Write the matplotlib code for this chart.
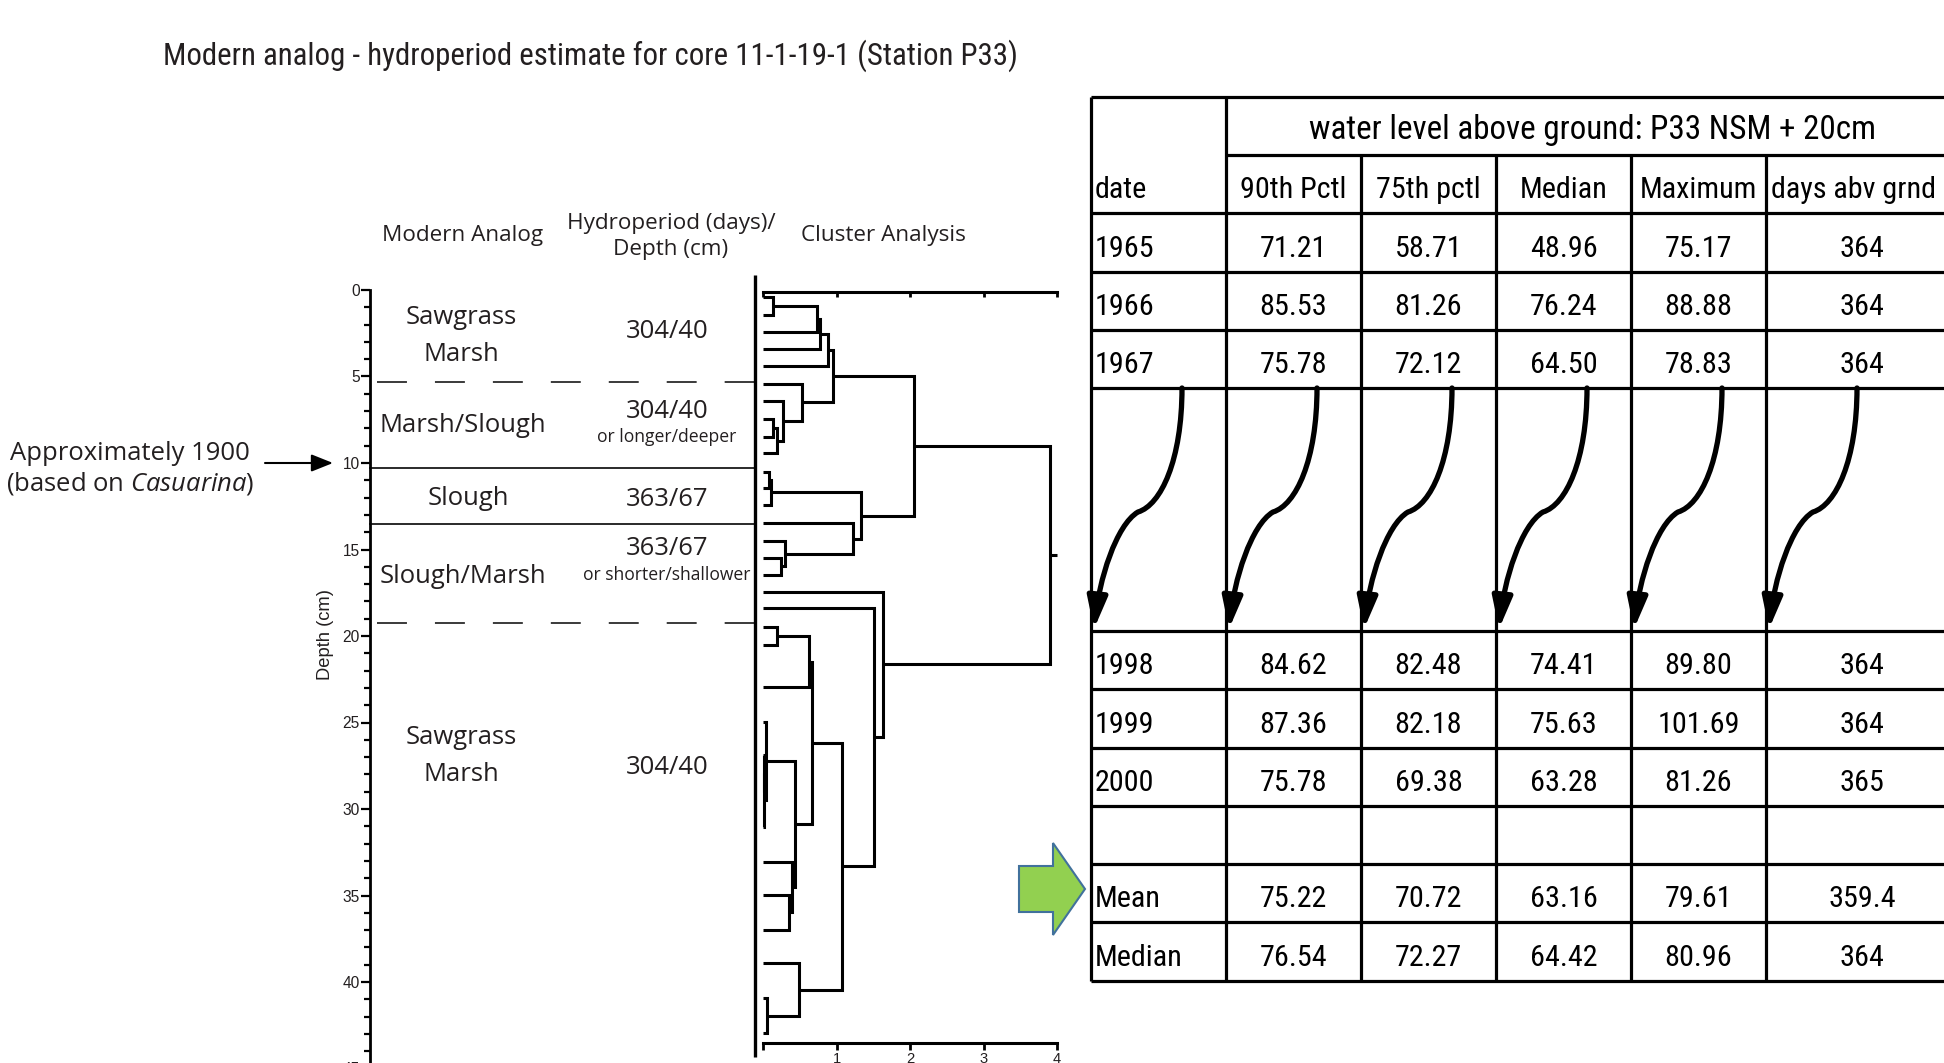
import matplotlib
matplotlib.use('Agg')
import matplotlib.pyplot as plt
from matplotlib import font_manager as fm
from matplotlib.font_manager import FontProperties
from matplotlib.textpath import TextPath
from matplotlib.patches import Polygon, FancyArrowPatch
from matplotlib.path import Path
from matplotlib.ticker import MultipleLocator

W, H, DPI = 1944, 1063, 100

# ---------------- data ----------------
title = 'Modern analog - hydroperiod estimate for core 11-1-19-1 (Station P33)'
panel_headers = [['Modern Analog'], ['Hydroperiod (days)/', 'Depth (cm)'], ['Cluster Analysis']]
zone_names = ['Sawgrass\nMarsh', 'Marsh/Slough', 'Slough', 'Slough/Marsh', 'Sawgrass\nMarsh']
zone_hydroperiod = ['304/40', '304/40', '363/67', '363/67', '304/40']
zone_note = ['', 'or longer/deeper', '', 'or shorter/shallower', '']
zone_boundaries = [5.3, 10.3, 13.5, 19.25]
boundary_dashed = [True, False, False, True]
marker_depth = 10
marker_text = ['Approximately 1900', '(based on $\\mathit{Casuarina}$)']
depth_label = 'Depth (cm)'
depth_major, depth_minor = 5, 1
cluster_ticks = [0, 1, 2, 3, 4]
cluster_ticklabels = ['', '1', '2', '3', '4']

# dendrogram: leaf depths (cm) and merges (child, child, distance); ids >= n are earlier merges
leaf_depths = [0.39, 1.45, 2.41, 3.43, 4.39, 5.43, 6.40, 7.48, 8.48, 9.44,
               10.50, 11.46, 12.43, 13.49, 14.51, 15.47, 16.47, 17.44, 18.40, 19.46,
               20.52, 22.97, 24.95, 26.88, 29.00, 31.02, 33.04, 34.97, 36.99, 38.92,
               40.94, 42.96]
merges = [(0, 1, 0.14), (32, 2, 0.73), (33, 3, 0.78), (34, 4, 0.89),
          (7, 8, 0.14), (36, 9, 0.195), (6, 37, 0.27), (5, 38, 0.53),
          (35, 39, 0.95),
          (10, 11, 0.08), (41, 12, 0.105), (15, 16, 0.24), (14, 43, 0.30),
          (13, 44, 1.23), (42, 45, 1.33), (40, 46, 2.05),
          (19, 20, 0.186), (48, 21, 0.62), (23, 24, 0.01), (50, 25, 0.02),
          (22, 51, 0.04), (27, 28, 0.36), (26, 53, 0.40), (52, 54, 0.435),
          (49, 55, 0.66), (30, 31, 0.05), (29, 57, 0.49), (56, 58, 1.07),
          (18, 59, 1.515), (17, 60, 1.63), (47, 61, 3.905)]

# table
group_header = 'water level above ground: P33 NSM + 20cm'
col_headers = ['date', '90th Pctl', '75th pctl', 'Median', 'Maximum', 'days abv grnd']
years = ['1965', '1966', '1967', '1998', '1999', '2000']
pct90 = [71.21, 85.53, 75.78, 84.62, 87.36, 75.78]
pct75 = [58.71, 81.26, 72.12, 82.48, 82.18, 69.38]
median = [48.96, 76.24, 64.50, 74.41, 75.63, 63.28]
maximum = [75.17, 88.88, 78.83, 89.80, 101.69, 81.26]
days_abv = [364, 364, 364, 364, 364, 365]
summary_labels = ['Mean', 'Median']
summary_pct90 = [75.22, 76.54]
summary_pct75 = [70.72, 72.27]
summary_median = [63.16, 64.42]
summary_max = [79.61, 80.96]
summary_days = [359.4, 364]

# ---------------- fonts ----------------
ttf = fm.fontManager.ttflist
names = {f.name for f in ttf}
LEFT_FONT = 'Open Sans' if 'Open Sans' in names else 'DejaVu Sans'
TICK_FONT = 'Liberation Sans' if 'Liberation Sans' in names else 'DejaVu Sans'
if 'Liberation Sans Narrow' in names:
    NARROW = ('Liberation Sans Narrow', 'normal')
elif 'Roboto Condensed' in names:
    NARROW = ('Roboto Condensed', 'normal')
elif any(f.name == 'DejaVu Sans' and f.stretch == 'condensed' for f in ttf):
    NARROW = ('DejaVu Sans', 'condensed')
else:
    NARROW = ('Roboto' if 'Roboto' in names else 'DejaVu Sans', 'normal')

plt.rcParams['font.family'] = [TICK_FONT, 'DejaVu Sans']
plt.rcParams['mathtext.fontset'] = 'custom'
plt.rcParams['mathtext.rm'] = LEFT_FONT
plt.rcParams['mathtext.it'] = LEFT_FONT + ':italic'


def fit(text, family, width_px=None, cap_px=None, stretch='normal', capchar='H'):
    fp = FontProperties(family=family, stretch=stretch)
    sizes = []
    if width_px:
        w = TextPath((0, 0), text, size=100, prop=fp).get_extents().width
        sizes.append(width_px / (w / 100 * DPI / 72))
    if cap_px:
        h = TextPath((0, 0), capchar, size=100, prop=fp).get_extents().height
        sizes.append(cap_px / (h / 100 * DPI / 72))
    return min(sizes)


TXT = '#231F20'
zone_fs = fit('Sawgrass', LEFT_FONT, 111, 18.3)
note_fs = fit('or longer/deeper', LEFT_FONT, 138)
head_fs = fit('Modern Analog', LEFT_FONT, 158)
marker_fs = fit('Approximately 1900', LEFT_FONT, 239, 18.3)
tick_fs = fit('10', TICK_FONT, 16, 10.7)
dlabel_fs = fit(depth_label, TICK_FONT, 88)
title_fs = fit(title, NARROW[0], 850, 24, stretch=NARROW[1])
tab_fs = fit('71.21', NARROW[0], 66, 22, stretch=NARROW[1], capchar='0')
grp_fs = fit(group_header, NARROW[0], 565, 26, stretch=NARROW[1])
LEFT = dict(family=[LEFT_FONT, 'DejaVu Sans'], color=TXT)
NAR = dict(family=[NARROW[0], 'DejaVu Sans'], fontstretch=NARROW[1])

# ---------------- layout ----------------
DEPTH_X0, DEPTH_X1 = 370, 755
DEPTH_Y0, PX_PER_CM = 290, 17.3
DEPTH_MAX = 46
DEND_X0, DEND_X1, DEND_TOP, DEND_BOT = 763, 1057, 292, 1043


def fx(px):
    return (px - DEPTH_X0) / (DEPTH_X1 - DEPTH_X0)


def dy(py):
    return (py - DEPTH_Y0) / PX_PER_CM


def rect(x0, x1, ytop, ybot):
    return [x0 / W, 1 - ybot / H, (x1 - x0) / W, (ybot - ytop) / H]


fig = plt.figure(figsize=(W / DPI, H / DPI), dpi=DPI, facecolor='white')

# ---- depth column ----
ax_d = fig.add_axes(rect(DEPTH_X0, DEPTH_X1, DEPTH_Y0, DEPTH_Y0 + DEPTH_MAX * PX_PER_CM))
ax_d.patch.set_visible(False)
ax_d.set_xlim(0, 1)
ax_d.set_ylim(DEPTH_MAX, 0)
for s in ['top', 'right', 'bottom']:
    ax_d.spines[s].set_visible(False)
ax_d.spines['left'].set_linewidth(2.0)
ax_d.set_xticks([])
ax_d.yaxis.set_major_locator(MultipleLocator(depth_major))
ax_d.yaxis.set_minor_locator(MultipleLocator(depth_minor))
ax_d.tick_params(axis='y', which='major', direction='out', length=6.5, width=1.6,
                 pad=1, labelsize=tick_fs, labelcolor=TXT)
ax_d.tick_params(axis='y', which='minor', direction='out', length=4.5, width=1.6)
ax_d.text(fx(325), dy(634), depth_label, rotation=90, ha='center', va='center',
          fontsize=dlabel_fs, color=TXT, clip_on=False)

# zone boundaries
for b, dashed in zip(zone_boundaries, boundary_dashed):
    if dashed:
        ax_d.plot([fx(377), fx(754)], [b, b], color='#3a3a3a', lw=1.4,
                  linestyle=(0, (15.4, 14.4)), clip_on=False)
    else:
        ax_d.plot([0, 1], [b, b], color='#2a2a2a', lw=1.4, clip_on=False)
ax_d.plot([1, 1], [dy(275), dy(1057)], color='black', lw=2.4, clip_on=False,
          solid_capstyle='butt')

# zone texts
ZONE_NAME_X = [461, 463, 468, 463, 461]
ZONE_NAME_BASE = [[324, 361], [432], [505], [583], [744, 781]]
HYDRO_X = 667
HYDRO_BASE = [338, 418, 506, 555, 774]
NOTE_BASE = [None, 442, None, 580, None]
for i, name in enumerate(zone_names):
    for line, base in zip(name.split('\n'), ZONE_NAME_BASE[i]):
        ax_d.text(fx(ZONE_NAME_X[i]), dy(base), line, ha='center', va='baseline',
                  fontsize=zone_fs, clip_on=False, **LEFT)
    ax_d.text(fx(HYDRO_X), dy(HYDRO_BASE[i]), zone_hydroperiod[i], ha='center',
              va='baseline', fontsize=zone_fs, clip_on=False, **LEFT)
    if zone_note[i]:
        ax_d.text(fx(HYDRO_X), dy(NOTE_BASE[i]), zone_note[i], ha='center',
                  va='baseline', fontsize=note_fs, clip_on=False, **LEFT)

# marker annotation
ax_d.annotate('', xy=(fx(333), marker_depth), xytext=(fx(265), marker_depth),
              annotation_clip=False,
              arrowprops=dict(arrowstyle='-|>,head_length=0.55,head_width=0.22',
                              mutation_scale=24, lw=1.5, color='black',
                              shrinkA=0, shrinkB=0))
ax_d.text(fx(130), dy(460), marker_text[0], ha='center', va='baseline',
          fontsize=marker_fs, clip_on=False, **LEFT)
ax_d.text(fx(130), dy(491), marker_text[1], ha='center', va='baseline',
          fontsize=marker_fs, clip_on=False, **LEFT)

# ---- cluster dendrogram ----
ax_c = fig.add_axes(rect(DEND_X0, DEND_X1, DEND_TOP, DEND_BOT))
ax_c.patch.set_visible(False)
ax_c.set_xlim(cluster_ticks[0], cluster_ticks[-1])
ax_c.set_ylim(dy(DEND_BOT), dy(DEND_TOP))
for s in ['left', 'right', 'top']:
    ax_c.spines[s].set_visible(False)
ax_c.spines['bottom'].set_linewidth(2.2)
ax_c.set_yticks([])
ax_c.set_xticks(cluster_ticks)
ax_c.set_xticklabels(cluster_ticklabels)
ax_c.tick_params(axis='x', direction='out', length=5, width=2, pad=1.5,
                 labelsize=tick_fs * 0.95, labelcolor=TXT, top=False)
sec = ax_c.secondary_xaxis('top')
sec.set_xticks(cluster_ticks)
sec.tick_params(direction='in', length=3.5, width=2, labeltop=False)
sec.spines['top'].set_linewidth(2.2)

n = len(leaf_depths)
pos = {i: d for i, d in enumerate(leaf_depths)}
hgt = {i: 0.0 for i in range(n)}
for k, (i, j, dist) in enumerate(merges):
    ax_c.plot([hgt[i], dist, dist, hgt[j]], [pos[i], pos[i], pos[j], pos[j]],
              color='black', lw=2.2, clip_on=False, solid_joinstyle='miter',
              solid_capstyle='butt')
    pos[n + k] = (pos[i] + pos[j]) / 2
    hgt[n + k] = dist
root = n + len(merges) - 1
ax_c.plot([hgt[root], cluster_ticks[-1]], [pos[root], pos[root]], color='black',
          lw=2.2, clip_on=False, solid_capstyle='butt')

# ---- overlay (title, headers, table) ----
ax_o = fig.add_axes([0, 0, 1, 1])
ax_o.set_xlim(0, W)
ax_o.set_ylim(H, 0)
ax_o.axis('off')

ax_o.text(590, 56, title, ha='center', va='center', fontsize=title_fs, color=TXT, **NAR)

HEAD_X = [463, 671, 883]
HEAD_Y = [[235], [224, 250], [235]]
for lines, x, ys in zip(panel_headers, HEAD_X, HEAD_Y):
    for line, y in zip(lines, ys):
        ax_o.text(x, y, line, ha='center', va='center', fontsize=head_fs, **LEFT)

# table grid
COL_EDGES = [1091, 1226, 1361, 1496, 1631, 1766, 1958]
ROW_EDGES = [97, 155, 213, 272, 330, 388, 631, 689, 748, 806, 864, 922, 981]
TLW = 2.3
ax_o.hlines(ROW_EDGES[0], COL_EDGES[0], COL_EDGES[-1], color='black', lw=TLW)
ax_o.hlines(ROW_EDGES[1], COL_EDGES[1], COL_EDGES[-1], color='black', lw=TLW)
ax_o.hlines(ROW_EDGES[2:], COL_EDGES[0], COL_EDGES[-1], color='black', lw=TLW)
ax_o.vlines(COL_EDGES[:2], ROW_EDGES[0], ROW_EDGES[-1], color='black', lw=TLW)
ax_o.vlines(COL_EDGES[2:], ROW_EDGES[1], ROW_EDGES[-1], color='black', lw=TLW)


def ccenter(c):
    return (COL_EDGES[c] + COL_EDGES[c + 1]) / 2


def base(r):
    return ROW_EDGES[r + 1] - 15


TK = dict(fontsize=tab_fs, color='black', va='baseline', **NAR)
ax_o.text((COL_EDGES[1] + COL_EDGES[-1]) / 2, ROW_EDGES[1] - 16, group_header,
          ha='center', va='baseline', fontsize=grp_fs, color='black', **NAR)
ax_o.text(COL_EDGES[0] + 4, base(1), col_headers[0], ha='left', **TK)
for c in range(1, len(col_headers) - 1):
    ax_o.text(ccenter(c), base(1), col_headers[c], ha='center', **TK)
ax_o.text(COL_EDGES[-2] + 5, base(1), col_headers[-1], ha='left', **TK)

YEAR_ROWS = [2, 3, 4, 6, 7, 8]
SUMMARY_ROWS = [10, 11]


def put_row(r, label, vals):
    ax_o.text(COL_EDGES[0] + 4, base(r), label, ha='left', **TK)
    for c, v in enumerate(vals):
        s = f'{v:g}' if c == 4 else f'{v:.2f}'
        ax_o.text(ccenter(c + 1), base(r), s, ha='center', **TK)


for k, r in enumerate(YEAR_ROWS):
    put_row(r, years[k], [pct90[k], pct75[k], median[k], maximum[k], days_abv[k]])
for k, r in enumerate(SUMMARY_ROWS):
    put_row(r, summary_labels[k], [summary_pct90[k], summary_pct75[k], summary_median[k],
                                   summary_max[k], summary_days[k]])

# curved arrows in the gap row
ARROW_PTS = [(91, 388), (91, 460), (70, 505), (47, 512), (25, 525), (8, 580), (3, 629)]
ARROW_CODES = [Path.MOVETO] + [Path.CURVE4] * 6
for c0 in COL_EDGES[:-1]:
    verts = [(c0 + dx, y) for dx, y in ARROW_PTS]
    ax_o.add_patch(FancyArrowPatch(path=Path(verts, ARROW_CODES),
                                   arrowstyle='-|>,head_length=0.95,head_width=0.3',
                                   mutation_scale=20, lw=3.8, color='black'))

# green block arrow
GREEN_ARROW = [(1019, 866), (1053, 866), (1053, 843), (1085, 889), (1053, 935),
               (1053, 912), (1019, 912)]
ax_o.add_patch(Polygon(GREEN_ARROW, closed=True, facecolor='#92D050',
                       edgecolor='#41719C', lw=1.5))

fig.savefig('out.png', dpi=DPI, facecolor='white')
